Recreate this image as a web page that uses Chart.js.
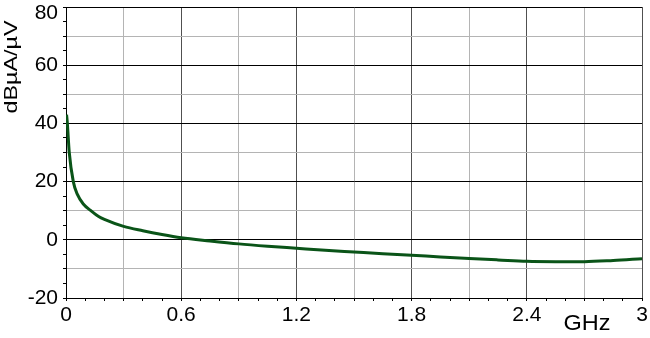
<!DOCTYPE html>
<html>
<head>
<meta charset="utf-8">
<script src="https://cdn.jsdelivr.net/npm/chart.js@4/dist/chart.umd.min.js"></script>
<style>
  html, body { margin: 0; padding: 0; background: #fff; }
  #wrap { width: 650px; height: 338px; }
</style>
</head>
<body>
<div id="wrap"><canvas id="myChart"></canvas></div>
<script>
// frequency in GHz, level in dBµA/µV
const freqGHz = [0.003, 0.007, 0.017, 0.038, 0.06, 0.09, 0.13, 0.17, 0.2, 0.3, 0.4, 0.5, 0.6,
  0.75, 0.9, 1.05, 1.2, 1.35, 1.5, 1.65, 1.8, 1.95, 2.1, 2.25, 2.4, 2.55, 2.7, 2.85, 3.0];
const levelDb = [43, 40, 30, 20, 15.5, 12.3, 10, 8, 7, 4.6, 3.1, 1.8, 0.7,
  -0.4, -1.4, -2.2, -2.9, -3.6, -4.2, -4.8, -5.3, -5.9, -6.4, -6.9, -7.4, -7.5, -7.5, -7.1, -6.5];

const xLabels = ['0', '0.6', '1.2', '1.8', '2.4', '3'];
const yLabels = ['-20', '0', '20', '40', '60', '80'];

const fontFamily = '"Liberation Sans", Arial, sans-serif';

const points = freqGHz.map((f, i) => ({ x: f, y: levelDb[i] }));

// draw text stretched along its own direction so it ends up `len` px long
function stretchedText(ctx, text, font, cx, cy, len, angle) {
  ctx.save();
  ctx.fillStyle = '#000';
  ctx.font = font;
  ctx.textAlign = 'center';
  ctx.textBaseline = 'middle';
  const w = ctx.measureText(text).width;
  ctx.translate(cx, cy);
  ctx.rotate(angle);
  ctx.scale(len / w, 1);
  ctx.fillText(text, 0, 0);
  ctx.restore();
}

// axis titles sit at odd places in the original, so draw them by hand.
// the top y label is pushed down to stay inside the canvas, like the original
const axisTitles = {
  id: 'axisTitles',
  afterDraw(chart) {
    const ctx = chart.ctx;
    const y = chart.scales.y;
    ctx.save();
    ctx.fillStyle = '#000';
    ctx.font = '21px ' + fontFamily;
    ctx.textAlign = 'right';
    ctx.textBaseline = 'middle';
    ctx.fillText(yLabels[yLabels.length - 1], y.right - 8, y.getPixelForValue(80) + 6);
    ctx.restore();

    stretchedText(ctx, 'GHz', '22px ' + fontFamily, 587, 324, 47, 0);
    stretchedText(ctx, 'dBµA/µV', '18px ' + fontFamily, 12, 67, 93, -Math.PI / 2);
  }
};

const config = {
  type: 'line',
  data: {
    datasets: [{
      data: points,
      borderColor: '#0a5418',
      borderWidth: 3,
      pointRadius: 0,
      cubicInterpolationMode: 'monotone',
      fill: false
    }]
  },
  options: {
    responsive: true,
    maintainAspectRatio: false,
    animation: false,
    layout: { padding: { top: 7, right: 8, left: 0, bottom: 0 } },
    plugins: { legend: { display: false }, tooltip: { enabled: false } },
    scales: {
      x: {
        type: 'linear',
        min: 0,
        max: 3,
        afterFit(scale) {
          scale.height = 40;
          scale.paddingLeft = 0;
          scale.paddingRight = 0;
        },
        afterBuildTicks(scale) {
          scale.ticks = [];
          for (let i = 0; i <= 30; i++) scale.ticks.push({ value: i / 10 });
        },
        border: { color: '#000', width: 1 },
        grid: {
          tickLength: 3,
          tickColor: '#000',
          color(c) {
            const k = Math.round(c.tick.value * 10);
            if (k % 6 === 0) return '#505050';
            if (k % 3 === 0) return '#b4b4b4';
            return 'rgba(0,0,0,0)';
          }
        },
        ticks: {
          padding: 2,
          maxRotation: 0,
          autoSkip: false,
          color: '#000',
          font: { family: fontFamily, size: 21 },
          callback(v) {
            const k = Math.round(v * 10);
            return k % 6 === 0 ? xLabels[k / 6] : '';
          }
        }
      },
      y: {
        min: -20,
        max: 80,
        afterFit(scale) {
          scale.width = 66;
          scale.paddingTop = 0;
          scale.paddingBottom = 0;
        },
        afterBuildTicks(scale) {
          scale.ticks = [];
          for (let v = -20; v <= 80; v += 5) scale.ticks.push({ value: v });
        },
        border: { color: '#000', width: 1 },
        grid: {
          tickLength: 3,
          tickColor: '#000',
          color(c) {
            const v = c.tick.value;
            if (v % 20 === 0) return '#000';
            if (v % 10 === 0) return '#b4b4b4';
            return 'rgba(0,0,0,0)';
          }
        },
        ticks: {
          padding: 5,
          autoSkip: false,
          color: '#000',
          font: { family: fontFamily, size: 21 },
          callback(v) {
            if (v === 80) return '';
            return v % 20 === 0 ? yLabels[(v + 20) / 20] : '';
          }
        }
      }
    }
  },
  plugins: [axisTitles]
};

const myChart = new Chart(document.getElementById('myChart'), config);
</script>
</body>
</html>
